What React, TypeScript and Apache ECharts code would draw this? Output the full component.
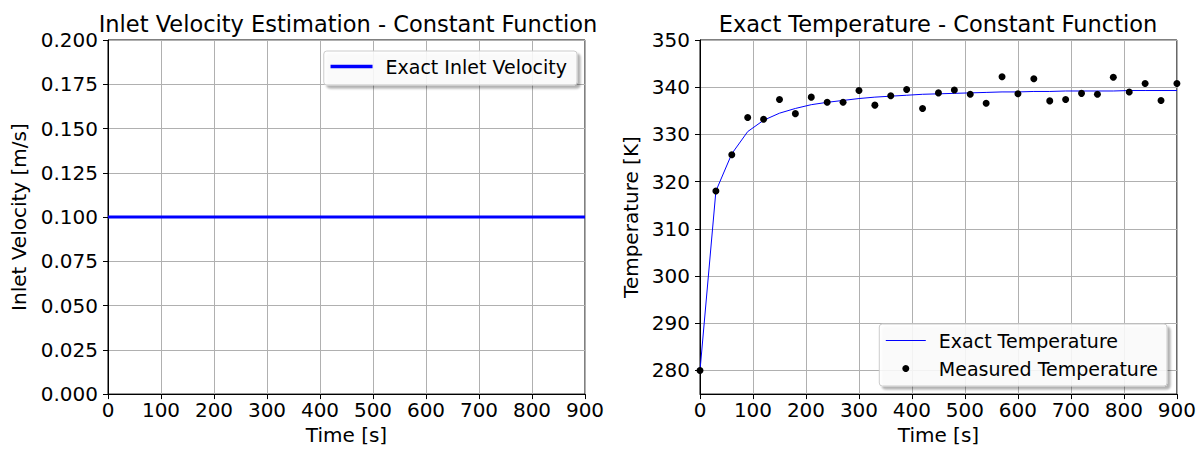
import React, { useEffect, useRef } from "react";
import * as echarts from "echarts";

const FONT = "DejaVu Sans";

const time = [0, 30, 60, 90, 120, 150, 180, 210, 240, 270, 300, 330, 360, 390, 420, 450, 480, 510, 540, 570, 600, 630, 660, 690, 720, 750, 780, 810, 840, 870, 900];

const inletVelocity = [0.1, 0.1, 0.1, 0.1, 0.1, 0.1, 0.1, 0.1, 0.1, 0.1, 0.1, 0.1, 0.1, 0.1, 0.1, 0.1, 0.1, 0.1, 0.1, 0.1, 0.1, 0.1, 0.1, 0.1, 0.1, 0.1, 0.1, 0.1, 0.1, 0.1, 0.1];

const exactTemperature = [280.0, 318.0, 325.9, 330.6, 333.0, 334.5, 335.5, 336.3, 336.8, 337.2, 337.6, 337.9, 338.1, 338.3, 338.5, 338.6, 338.7, 338.8, 338.9, 339.0, 339.0, 339.1, 339.1, 339.2, 339.2, 339.2, 339.2, 339.3, 339.3, 339.3, 339.3];

const measuredTemperature = [280.0, 318.0, 325.7, 333.6, 333.2, 337.4, 334.4, 337.9, 336.8, 336.8, 339.3, 336.2, 338.2, 339.5, 335.5, 338.8, 339.4, 338.5, 336.6, 342.2, 338.6, 341.8, 337.1, 337.4, 338.7, 338.5, 342.1, 339.0, 340.8, 337.2, 340.8];

const velocityTickLabelDecimals = 3;

const titles = ["Inlet Velocity Estimation - Constant Function", "Exact Temperature - Constant Function"];
const xAxisName = "Time [s]";
const yAxisNames = ["Inlet Velocity [m/s]", "Temperature [K]"];
const seriesNames = ["Exact Inlet Velocity", "Exact Temperature", "Measured Temperature"];

const zip = (xs: number[], ys: number[]) => xs.map((x, i) => [x, ys[i]]);

const axisCommon = {
  type: "value" as const,
  axisLine: { show: true, lineStyle: { color: "#000", width: 1 } },
  axisTick: { show: true, inside: false, length: 5, lineStyle: { color: "#000", width: 1 } },
  axisLabel: { color: "#000", fontSize: 20, fontFamily: FONT },
  splitLine: { show: true, lineStyle: { color: "#b0b0b0", width: 1 } },
  nameTextStyle: { color: "#000", fontSize: 20, fontFamily: FONT },
};

const legendCommon = {
  backgroundColor: "rgba(255,255,255,0.85)",
  borderColor: "#cccccc",
  borderWidth: 1,
  borderRadius: 3,
  shadowColor: "rgba(0,0,0,0.35)",
  shadowBlur: 2,
  shadowOffsetX: 3,
  shadowOffsetY: 3,
};

const titleStyle = { fontSize: 22.5, fontWeight: "normal", color: "#000", fontFamily: FONT };

export default function App() {
  const ref = useRef<HTMLDivElement>(null);
  useEffect(() => {
    if (!ref.current) return;
    const chart = echarts.init(ref.current, undefined, { renderer: "svg" });
    const option = {
      animation: false,
      backgroundColor: "#fff",
      textStyle: { fontFamily: FONT },
      title: [
        { text: titles[0], left: 348, top: 12, textAlign: "center", padding: 0, textStyle: titleStyle },
        { text: titles[1], left: 938, top: 12, textAlign: "center", padding: 0, textStyle: titleStyle },
      ],
      grid: [
        { left: 108, right: 614, top: 40, bottom: 54, show: true, borderColor: "#000", borderWidth: 1, backgroundColor: "transparent", containLabel: false },
        { left: 700, right: 22, top: 40, bottom: 54, show: true, borderColor: "#000", borderWidth: 1, backgroundColor: "transparent", containLabel: false },
      ],
      xAxis: [
        { ...axisCommon, gridIndex: 0, min: 0, max: 900, interval: 100, name: xAxisName, nameLocation: "middle", nameGap: 30, axisLabel: { ...axisCommon.axisLabel, margin: 6 } },
        { ...axisCommon, gridIndex: 1, min: 0, max: 900, interval: 100, name: xAxisName, nameLocation: "middle", nameGap: 30, axisLabel: { ...axisCommon.axisLabel, margin: 6 } },
      ],
      yAxis: [
        {
          ...axisCommon, gridIndex: 0, min: 0, max: 0.2, interval: 0.025, name: yAxisNames[0], nameLocation: "middle", nameGap: 79,
          axisLabel: { ...axisCommon.axisLabel, margin: 10, formatter: (v: number) => v.toFixed(velocityTickLabelDecimals) },
        },
        {
          ...axisCommon, gridIndex: 1, min: 275, max: 350, splitNumber: 7, name: yAxisNames[1], nameLocation: "middle", nameGap: 59,
          axisLabel: { ...axisCommon.axisLabel, margin: 10, showMinLabel: false, formatter: (v: number) => (v % 10 === 0 ? String(v) : "") },
        },
      ],
      legend: [
        {
          ...legendCommon,
          data: [{ name: seriesNames[0], itemStyle: { opacity: 0 }, lineStyle: { width: 3.5, color: "#0000ff" } }],
          right: 622, top: 51, padding: [6, 10, 9, 5],
          itemWidth: 42, itemHeight: 8,
          textStyle: { color: "#000", fontSize: 19, fontFamily: FONT, padding: [0, 0, 0, 8] },
        },
        {
          ...legendCommon,
          data: [{ name: seriesNames[1], itemStyle: { opacity: 0 }, lineStyle: { width: 1, color: "#0000ff" } }, { name: seriesNames[2] }],
          orient: "vertical", right: 32, top: 324, padding: [7, 9, 8, 6],
          itemWidth: 40, itemHeight: 7, itemGap: 9,
          textStyle: { color: "#000", fontSize: 19, fontFamily: FONT, padding: [0, 0, 0, 8] },
        },
      ],
      series: [
        {
          name: seriesNames[0], type: "line", xAxisIndex: 0, yAxisIndex: 0, data: zip(time, inletVelocity),
          symbol: "none", lineStyle: { color: "#0000ff", width: 3 }, itemStyle: { color: "#0000ff" },
        },
        {
          name: seriesNames[1], type: "line", xAxisIndex: 1, yAxisIndex: 1, data: zip(time, exactTemperature),
          symbol: "none", lineStyle: { color: "#0000ff", width: 1 }, itemStyle: { color: "#0000ff" },
        },
        {
          name: seriesNames[2], type: "scatter", xAxisIndex: 1, yAxisIndex: 1, data: zip(time, measuredTemperature),
          symbol: "circle", symbolSize: 7, symbolKeepAspect: true, itemStyle: { color: "#000", opacity: 1 }, z: 3,
        },
      ],
    };
    chart.setOption(option as any);
    return () => chart.dispose();
  }, []);
  return <div ref={ref} style={{ position: "absolute", left: 0, top: 0, width: 1199, height: 450 }} />;
}
